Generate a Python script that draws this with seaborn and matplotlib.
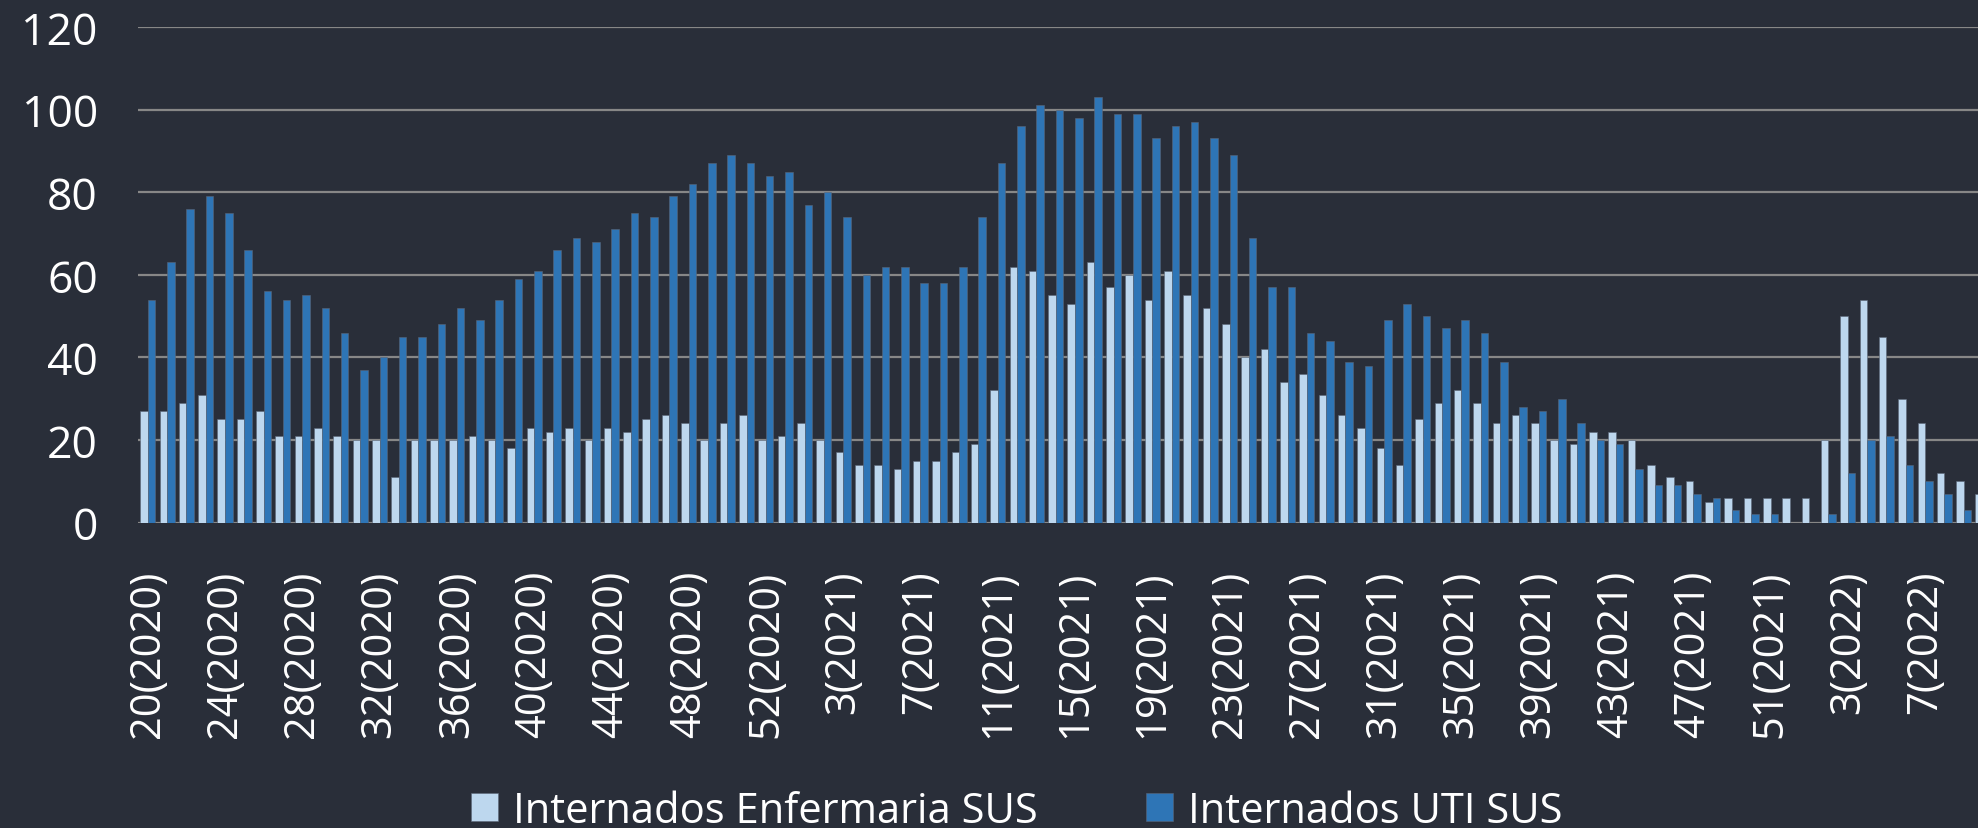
import pandas as pd
import matplotlib
matplotlib.use("Agg")
import matplotlib.pyplot as plt
import seaborn as sns

# semanas epidemiologicas: 20-53 de 2020, 1-52 de 2021, 1-10 de 2022
semanas = ([f"{w}(2020)" for w in range(20, 54)]
           + [f"{w}(2021)" for w in range(1, 53)]
           + [f"{w}(2022)" for w in range(1, 11)])

enfermaria = [27, 27, 29, 31, 25, 25, 27, 21, 21, 23, 21, 20, 20, 11, 20, 20,
              20, 21, 20, 18, 23, 22, 23, 20, 23, 22, 25, 26, 24, 20, 24, 26,
              20, 21, 24, 20, 17, 14, 14, 13, 15, 15, 17, 19, 32, 62, 61, 55,
              53, 63, 57, 60, 54, 61, 55, 52, 48, 40, 42, 34, 36, 31, 26, 23,
              18, 14, 25, 29, 32, 29, 24, 26, 24, 20, 19, 22, 22, 20, 14, 11,
              10, 5, 6, 6, 6, 6, 6, 20, 50, 54, 45, 30, 24, 12, 10, 7]

uti = [54, 63, 76, 79, 75, 66, 56, 54, 55, 52, 46, 37, 40, 45, 45, 48,
       52, 49, 54, 59, 61, 66, 69, 68, 71, 75, 74, 79, 82, 87, 89, 87,
       84, 85, 77, 80, 74, 60, 62, 62, 58, 58, 62, 74, 87, 96, 101, 100,
       98, 103, 99, 99, 93, 96, 97, 93, 89, 69, 57, 57, 46, 44, 39, 38,
       49, 53, 50, 47, 49, 46, 39, 28, 27, 30, 24, 20, 19, 13, 9, 9,
       7, 6, 3, 2, 2, 0, 0, 2, 12, 20, 21, 14, 10, 7, 3, 3]

series = ["Internados Enfermaria SUS", "Internados UTI SUS"]
cores = ["#bdd7ee", "#2e75b6"]
yticks = [0, 20, 40, 60, 80, 100, 120]

df = pd.DataFrame({
    "semana": semanas + semanas,
    "valor": enfermaria + uti,
    "serie": [series[0]] * len(semanas) + [series[1]] * len(semanas),
})

bg = "#292e39"
plt.rcParams["font.family"] = ["Open Sans", "DejaVu Sans"]

fig, ax = plt.subplots(figsize=(19.78, 8.29), dpi=100)
fig.patch.set_facecolor(bg)
ax.set_facecolor(bg)

sns.barplot(data=df, x="semana", y="valor", hue="serie", hue_order=series,
            palette=cores, saturation=1, width=0.78, gap=0,
            edgecolor="#5a6678", linewidth=0.4, ax=ax)

ax.set_ylim(0, 120)
ax.set_xlim(-0.5, 94.74)
ax.set_yticks(yticks)
ax.set_xticks(range(0, len(semanas), 4))
ax.set_xticklabels(semanas[::4])
ax.set_xlabel("")
ax.set_ylabel("")

ax.yaxis.grid(True, color="#878787", linewidth=1.6)
ax.set_axisbelow(True)
for s in ax.spines.values():
    s.set_visible(False)

ax.tick_params(axis="x", labelrotation=90, length=0, pad=34, labelsize=30,
               colors="white")
ax.tick_params(axis="y", length=0, pad=29, labelsize=32, colors="white")

handles, labels = ax.get_legend_handles_labels()
ax.get_legend().remove()
fig.legend(handles, labels, loc="lower center", bbox_to_anchor=(0.514, -0.05),
           ncol=2, frameon=False, fontsize=30, labelcolor="white",
           handlelength=0.65, handleheight=0.65, handletextpad=0.35,
           columnspacing=2.6)

fig.subplots_adjust(left=0.0698, right=1.0, top=0.9663, bottom=0.3684)
fig.savefig("out.png", dpi=100, facecolor=bg)
